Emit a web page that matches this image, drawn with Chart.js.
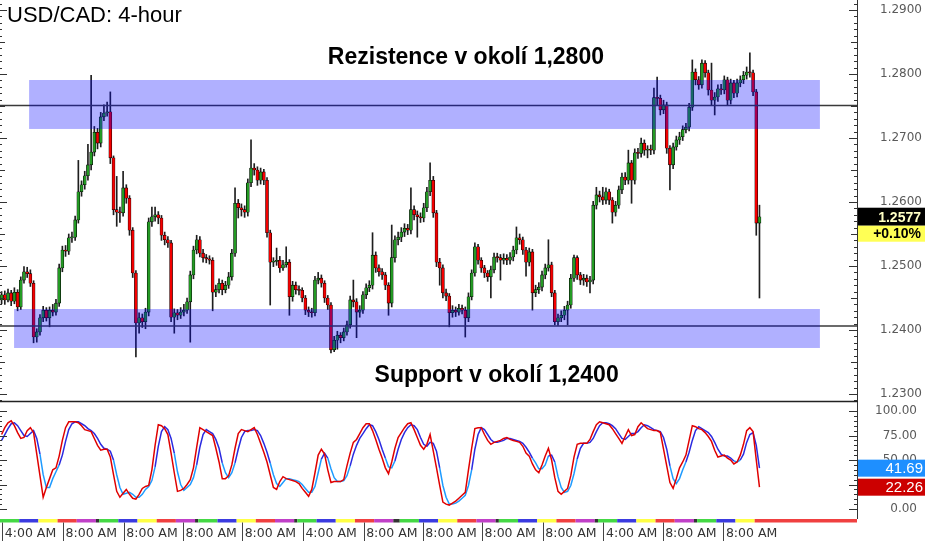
<!DOCTYPE html>
<html>
<head>
<meta charset="utf-8">
<script src="https://cdn.jsdelivr.net/npm/chart.js@4.4.1/dist/chart.umd.min.js"></script>
<style>
  html, body { margin: 0; padding: 0; background: #fff; }
  #wrap { position: relative; width: 925px; height: 541px; overflow: hidden; }
  #price { position: absolute; left: 0; top: 0; }
  #stoch { position: absolute; left: 0; top: 402px; }
</style>
</head>
<body>
<div id="wrap">
  <canvas id="price" width="925" height="403"></canvas>
  <canvas id="stoch" width="925" height="139"></canvas>
</div>
<script>
// USD/CAD 4-hour candles (index = candle number)
const opens = [
  1.2447,1.2455,1.2447,1.2458,1.2445,1.2459,1.2436,1.2478,1.2491,1.2488,
  1.2473,1.2389,1.2397,1.2419,1.2431,1.2419,1.2431,1.2428,1.2442,1.2497,
  1.2525,1.2523,1.2544,1.2545,1.2572,1.2616,1.2627,1.2641,1.2658,1.2678,
  1.2709,1.2692,1.2733,1.2739,1.2741,1.2669,1.2588,1.2584,1.2583,1.2622,
  1.2606,1.2556,1.2489,1.2411,1.2419,1.2413,1.2428,1.2569,1.2577,1.2580,
  1.2575,1.2548,1.2541,1.2536,1.2420,1.2427,1.2423,1.2428,1.2431,1.2444,
  1.2486,1.2525,1.2541,1.2520,1.2513,1.2511,1.2509,1.2459,1.2463,1.2473,
  1.2463,1.2470,1.2483,1.2520,1.2598,1.2591,1.2588,1.2584,1.2630,1.2653,
  1.2650,1.2634,1.2647,1.2634,1.2552,1.2506,1.2507,1.2509,1.2497,1.2502,
  1.2506,1.2452,1.2470,1.2463,1.2462,1.2450,1.2431,1.2428,1.2427,1.2478,
  1.2481,1.2473,1.2450,1.2439,1.2369,1.2384,1.2392,1.2388,1.2397,1.2408,
  1.2447,1.2444,1.2428,1.2431,1.2455,1.2466,1.2470,1.2517,1.2497,1.2491,
  1.2486,1.2470,1.2442,1.2513,1.2541,1.2545,1.2553,1.2559,1.2556,1.2588,
  1.2580,1.2577,1.2575,1.2591,1.2616,1.2634,1.2583,1.2506,1.2497,1.2458,
  1.2453,1.2427,1.2431,1.2428,1.2434,1.2431,1.2419,1.2452,1.2489,1.2530,
  1.2509,1.2497,1.2489,1.2483,1.2494,1.2514,1.2513,1.2509,1.2512,1.2509,
  1.2514,1.2525,1.2544,1.2541,1.2525,1.2506,1.2522,1.2458,1.2463,1.2467,
  1.2486,1.2497,1.2502,1.2458,1.2413,1.2419,1.2423,1.2431,1.2439,1.2481,
  1.2513,1.2486,1.2478,1.2481,1.2475,1.2478,1.2595,1.2611,1.2608,1.2603,
  1.2616,1.2603,1.2584,1.2595,1.2619,1.2639,1.2634,1.2661,1.2634,1.2677,
  1.2676,1.2692,1.2681,1.2682,1.2681,1.2763,1.2762,1.2744,1.2752,1.2684,
  1.2658,1.2686,1.2697,1.2702,1.2713,1.2717,1.2748,1.2803,1.2791,1.2783,
  1.2817,1.2802,1.2775,1.2759,1.2764,1.2777,1.2775,1.2791,1.2759,1.2786,
  1.2770,1.2786,1.2791,1.2798,1.2803,1.2802,1.2772,1.2567
];
const highs = [
  1.2460,1.2461,1.2464,1.2462,1.2466,1.2463,1.2483,1.2499,1.2498,1.2494,
  1.2477,1.2402,1.2424,1.2437,1.2435,1.2436,1.2440,1.2448,1.2503,1.2531,
  1.2532,1.2550,1.2553,1.2578,1.2665,1.2633,1.2648,1.2690,1.2798,1.2718,
  1.2715,1.2740,1.2752,1.2756,1.2772,1.2672,1.2640,1.2592,1.2648,1.2627,
  1.2610,1.2560,1.2493,1.2427,1.2425,1.2434,1.2575,1.2592,1.2592,1.2585,
  1.2579,1.2553,1.2546,1.2540,1.2433,1.2432,1.2435,1.2440,1.2450,1.2492,
  1.2531,1.2548,1.2546,1.2526,1.2518,1.2516,1.2513,1.2470,1.2480,1.2478,
  1.2476,1.2490,1.2526,1.2622,1.2604,1.2597,1.2594,1.2636,1.2697,1.2660,
  1.2655,1.2653,1.2651,1.2638,1.2556,1.2513,1.2528,1.2515,1.2509,1.2530,
  1.2510,1.2476,1.2475,1.2469,1.2466,1.2454,1.2436,1.2434,1.2484,1.2490,
  1.2486,1.2477,1.2454,1.2443,1.2390,1.2398,1.2396,1.2403,1.2414,1.2453,
  1.2478,1.2449,1.2438,1.2460,1.2472,1.2477,1.2552,1.2522,1.2502,1.2496,
  1.2490,1.2474,1.2564,1.2547,1.2553,1.2560,1.2566,1.2565,1.2622,1.2594,
  1.2586,1.2583,1.2598,1.2623,1.2661,1.2640,1.2587,1.2512,1.2502,1.2464,
  1.2457,1.2438,1.2436,1.2440,1.2439,1.2436,1.2458,1.2494,1.2536,1.2534,
  1.2513,1.2501,1.2493,1.2500,1.2520,1.2520,1.2518,1.2519,1.2518,1.2521,
  1.2531,1.2561,1.2550,1.2545,1.2529,1.2528,1.2526,1.2470,1.2474,1.2492,
  1.2503,1.2541,1.2506,1.2462,1.2425,1.2430,1.2437,1.2445,1.2487,1.2517,
  1.2516,1.2490,1.2487,1.2486,1.2484,1.2601,1.2623,1.2617,1.2623,1.2622,
  1.2620,1.2607,1.2601,1.2625,1.2645,1.2646,1.2681,1.2665,1.2683,1.2684,
  1.2700,1.2697,1.2688,1.2689,1.2778,1.2795,1.2767,1.2759,1.2756,1.2688,
  1.2692,1.2703,1.2709,1.2719,1.2723,1.2754,1.2822,1.2808,1.2796,1.2822,
  1.2821,1.2806,1.2817,1.2771,1.2783,1.2784,1.2797,1.2795,1.2792,1.2790,
  1.2792,1.2797,1.2804,1.2811,1.2833,1.2806,1.2776,1.2595
];
const lows = [
  1.2441,1.2440,1.2444,1.2438,1.2441,1.2430,1.2432,1.2473,1.2482,1.2468,
  1.2380,1.2381,1.2392,1.2413,1.2414,1.2405,1.2422,1.2423,1.2437,1.2491,
  1.2515,1.2518,1.2537,1.2540,1.2567,1.2609,1.2620,1.2634,1.2650,1.2672,
  1.2683,1.2686,1.2727,1.2734,1.2660,1.2580,1.2562,1.2568,1.2578,1.2598,
  1.2548,1.2482,1.2358,1.2395,1.2404,1.2402,1.2422,1.2562,1.2570,1.2566,
  1.2540,1.2533,1.2529,1.2413,1.2395,1.2416,1.2418,1.2422,1.2426,1.2381,
  1.2480,1.2519,1.2514,1.2506,1.2505,1.2503,1.2430,1.2452,1.2458,1.2455,
  1.2458,1.2465,1.2478,1.2515,1.2575,1.2578,1.2576,1.2578,1.2624,1.2642,
  1.2626,1.2628,1.2627,1.2545,1.2439,1.2499,1.2501,1.2490,1.2493,1.2498,
  1.2423,1.2445,1.2456,1.2455,1.2444,1.2424,1.2421,1.2420,1.2422,1.2472,
  1.2467,1.2443,1.2432,1.2364,1.2366,1.2370,1.2380,1.2383,1.2392,1.2403,
  1.2436,1.2388,1.2420,1.2426,1.2449,1.2460,1.2464,1.2490,1.2484,1.2479,
  1.2463,1.2423,1.2436,1.2506,1.2533,1.2538,1.2546,1.2549,1.2550,1.2572,
  1.2545,1.2568,1.2569,1.2585,1.2610,1.2576,1.2499,1.2470,1.2450,1.2446,
  1.2405,1.2420,1.2421,1.2423,1.2425,1.2389,1.2413,1.2447,1.2484,1.2503,
  1.2490,1.2482,1.2476,1.2450,1.2489,1.2506,1.2478,1.2503,1.2502,1.2503,
  1.2508,1.2519,1.2534,1.2518,1.2484,1.2500,1.2431,1.2452,1.2457,1.2461,
  1.2480,1.2492,1.2452,1.2408,1.2407,1.2413,1.2416,1.2408,1.2434,1.2476,
  1.2479,1.2471,1.2470,1.2468,1.2458,1.2472,1.2589,1.2600,1.2596,1.2597,
  1.2596,1.2567,1.2578,1.2590,1.2613,1.2627,1.2628,1.2598,1.2628,1.2668,
  1.2670,1.2673,1.2669,1.2674,1.2675,1.2752,1.2736,1.2738,1.2676,1.2619,
  1.2652,1.2681,1.2690,1.2696,1.2708,1.2711,1.2743,1.2783,1.2776,1.2778,
  1.2795,1.2767,1.2752,1.2736,1.2757,1.2768,1.2769,1.2752,1.2753,1.2763,
  1.2764,1.2780,1.2785,1.2792,1.2795,1.2766,1.2548,1.2450
];
const closes = [
  1.2455,1.2447,1.2458,1.2445,1.2459,1.2436,1.2478,1.2491,1.2488,1.2473,
  1.2389,1.2397,1.2419,1.2431,1.2419,1.2431,1.2428,1.2442,1.2497,1.2525,
  1.2523,1.2544,1.2545,1.2572,1.2616,1.2627,1.2641,1.2658,1.2678,1.2709,
  1.2692,1.2733,1.2739,1.2741,1.2669,1.2588,1.2584,1.2583,1.2622,1.2606,
  1.2556,1.2489,1.2411,1.2419,1.2413,1.2428,1.2569,1.2577,1.2580,1.2575,
  1.2548,1.2541,1.2536,1.2420,1.2427,1.2423,1.2428,1.2431,1.2444,1.2486,
  1.2525,1.2541,1.2520,1.2513,1.2511,1.2509,1.2459,1.2463,1.2473,1.2463,
  1.2470,1.2483,1.2520,1.2598,1.2591,1.2588,1.2584,1.2630,1.2653,1.2650,
  1.2634,1.2647,1.2634,1.2552,1.2506,1.2507,1.2509,1.2497,1.2502,1.2506,
  1.2452,1.2470,1.2463,1.2462,1.2450,1.2431,1.2428,1.2427,1.2478,1.2481,
  1.2473,1.2450,1.2439,1.2369,1.2384,1.2392,1.2388,1.2397,1.2408,1.2447,
  1.2444,1.2428,1.2431,1.2455,1.2466,1.2470,1.2517,1.2497,1.2491,1.2486,
  1.2470,1.2442,1.2513,1.2541,1.2545,1.2553,1.2559,1.2556,1.2588,1.2580,
  1.2577,1.2575,1.2591,1.2616,1.2634,1.2583,1.2506,1.2497,1.2458,1.2453,
  1.2427,1.2431,1.2428,1.2434,1.2431,1.2419,1.2452,1.2489,1.2530,1.2509,
  1.2497,1.2489,1.2483,1.2494,1.2514,1.2513,1.2509,1.2512,1.2509,1.2514,
  1.2525,1.2544,1.2541,1.2525,1.2506,1.2522,1.2458,1.2463,1.2467,1.2486,
  1.2497,1.2502,1.2458,1.2413,1.2419,1.2423,1.2431,1.2439,1.2481,1.2513,
  1.2486,1.2478,1.2481,1.2475,1.2478,1.2595,1.2611,1.2608,1.2603,1.2616,
  1.2603,1.2584,1.2595,1.2619,1.2639,1.2634,1.2661,1.2634,1.2677,1.2676,
  1.2692,1.2681,1.2682,1.2681,1.2763,1.2762,1.2744,1.2752,1.2684,1.2658,
  1.2686,1.2697,1.2702,1.2713,1.2717,1.2748,1.2803,1.2791,1.2783,1.2817,
  1.2802,1.2775,1.2759,1.2764,1.2777,1.2775,1.2791,1.2759,1.2786,1.2770,
  1.2786,1.2791,1.2798,1.2803,1.2802,1.2772,1.2567,1.2577
];

// stochastic oscillator, fast (red) and slow (blue) line
const stochRed = [
  76,83,88,90,85,78,72,73,80,83, 78,56,34,12,22,31,40,42,54,70,
  83,89,89,89,88,85,81,80,79,72, 65,60,61,61,53,35,18,12,16,20,
  15,11,10,15,21,23,24,40,65,86, 85,82,76,57,37,18,19,21,25,30,
  42,63,83,81,79,77,75,62,48,31, 31,34,45,62,77,81,80,79,81,83,
  76,67,58,48,35,22,20,28,33,31, 30,29,28,26,21,17,13,20,37,55,
  61,56,40,27,28,28,28,30,44,57, 68,71,77,83,87,87,80,71,61,52,
  42,36,48,62,73,78,83,87,88,81, 73,65,61,66,76,59,42,24,7,5,
  4,6,8,11,14,17,40,62,82,83, 83,76,70,66,68,69,70,72,73,71,
  70,69,68,64,57,54,46,40,37,45, 54,62,50,32,18,15,18,21,34,53,
  66,67,67,67,71,79,86,89,88,87, 86,82,77,72,67,74,81,75,76,84,
  88,85,82,81,80,80,78,61,44,27, 21,31,42,48,55,70,85,84,82,81,
  78,74,69,60,53,54,55,52,50,46, 48,55,66,80,83,79,50,22.26
];
const stochBlue = [
  70,76,82,87,88,85,80,75,74,77, 80,72,56,35,22,22,31,38,45,55,
  69,81,87,89,89,87,85,82,80,77, 72,66,62,61,59,50,35,22,15,16,
  17,15,12,12,15,20,23,29,43,64, 79,84,81,72,57,38,25,19,22,25,
  32,45,63,76,81,79,77,71,62,47, 37,32,37,47,61,73,79,80,80,81,
  80,75,67,58,47,35,26,23,27,31, 31,30,29,28,25,21,17,17,23,37,
  51,57,52,41,32,28,28,29,34,44, 56,65,72,77,82,86,85,79,71,61,
  52,43,42,49,61,71,78,83,86,85, 81,73,66,64,68,67,59,42,24,12,
  5,5,6,8,11,14,24,40,61,76, 83,81,76,71,68,68,69,70,72,72,
  71,70,69,67,63,58,52,47,41,41, 45,54,55,48,33,22,17,18,24,36,
  51,62,67,67,68,72,79,85,88,88, 87,85,82,77,72,71,74,77,77,79,
  83,86,85,83,81,80,79,73,61,44, 31,26,31,40,48,58,70,80,84,82,
  80,78,74,68,61,56,54,54,52,49, 48,50,56,68,76,78,65,41.69
];

// axis ticks and time labels (candle positions)
const priceTicks = [1.23, 1.24, 1.25, 1.26, 1.27, 1.28, 1.29];
const stochTicks = [0, 25, 50, 75, 100];
const timeTickAt = [1, 20, 39, 57.5, 76, 95, 114, 132.5, 151, 170, 189, 207.5, 226.5];
const timeTickText = ['4:00 AM', '8:00 AM', '8:00 AM', '8:00 AM', '8:00 AM',
                      '4:00 AM', '8:00 AM', '8:00 AM', '8:00 AM', '8:00 AM',
                      '4:00 AM', '8:00 AM', '8:00 AM'];
const weekStarts = [0, 31, 62, 93, 125, 156, 187, 218];

// support / resistance
const levelLines = [1.27508, 1.24063];
const zoneFrom = [8.6, 3.9];
const zoneTo = [255.9, 255.9];
const zoneHigh = [1.27906, 1.24328];
const zoneLow = [1.27141, 1.23719];
const noteText = ['Rezistence v okolí 1,2800', 'Support v okolí 1,2400'];
const noteAt = [145.2, 154.8];
const notePrice = [1.28156, 1.23188];
const dayChange = '+0.10%';

const X_MIN = -0.5, X_MAX = 267.5;
const PRICE_MIN = 1.22875, PRICE_MAX = 1.29156;
const N = closes.length;

const wickData = closes.map((c, i) => ({ x: i, y: [lows[i], highs[i]] }));
const bodyData = closes.map((c, i) => ({ x: i, y: [opens[i], c] }));

const tickFont = { family: 'DejaVu Sans', size: 12 };

const pricePanel = {
  id: 'pricePanel',
  afterDatasetsDraw(chart) {
    const { ctx, chartArea: a, scales: { x, y } } = chart;
    ctx.save();
    ctx.strokeStyle = '#3a3a3a';
    ctx.lineWidth = 1.5;
    levelLines.forEach((p) => {
      const py = y.getPixelForValue(p);
      ctx.beginPath();
      ctx.moveTo(a.left, py);
      ctx.lineTo(a.right, py);
      ctx.stroke();
    });
    ctx.fillStyle = 'rgba(0,0,255,0.31)';
    zoneFrom.forEach((x0, k) => {
      const px0 = x.getPixelForValue(x0);
      const px1 = x.getPixelForValue(zoneTo[k]);
      const py0 = y.getPixelForValue(zoneHigh[k]);
      const py1 = y.getPixelForValue(zoneLow[k]);
      ctx.fillRect(px0, py0, px1 - px0, py1 - py0);
    });
    ctx.fillStyle = '#000';
    ctx.font = 'bold 23px "Liberation Sans"';
    ctx.textAlign = 'center';
    ctx.textBaseline = 'alphabetic';
    noteText.forEach((t, k) => {
      ctx.fillText(t, x.getPixelForValue(noteAt[k]), y.getPixelForValue(notePrice[k]));
    });
    ctx.restore();
  },
  afterDraw(chart) {
    const { ctx, chartArea: a, scales: { y } } = chart;
    const ax = a.right;
    ctx.save();
    // axis line, bottom border, tick marks
    ctx.strokeStyle = '#333';
    ctx.lineWidth = 1;
    ctx.beginPath();
    ctx.moveTo(ax + 0.5, 0);
    ctx.lineTo(ax + 0.5, a.bottom);
    for (let k = Math.ceil(y.min * 1000); k <= Math.floor(y.max * 1000); k++) {
      const py = Math.round(y.getPixelForValue(k / 1000)) + 0.5;
      const len = k % 10 === 0 ? 8 : (k % 5 === 0 ? 6 : 3);
      ctx.moveTo(ax - len, py);
      ctx.lineTo(ax, py);
      ctx.moveTo(a.left, py);
      ctx.lineTo(a.left + len - 1, py);
    }
    ctx.stroke();
    ctx.lineWidth = 1.5;
    ctx.strokeStyle = '#222';
    ctx.beginPath();
    ctx.moveTo(a.left, a.bottom - 0.5);
    ctx.lineTo(ax + 1, a.bottom - 0.5);
    ctx.stroke();

    // title
    ctx.fillStyle = '#000';
    ctx.font = '22px "Liberation Sans"';
    ctx.textAlign = 'left';
    ctx.textBaseline = 'alphabetic';
    ctx.fillText('USD/CAD: 4-hour', 7, 21.5);

    // last price and change boxes
    const py = y.getPixelForValue(closes[N - 1]);
    const w = chart.width - ax - 1;
    ctx.fillStyle = '#000';
    ctx.fillRect(ax + 1, py - 9, w, 18);
    ctx.fillStyle = '#ffff55';
    ctx.fillRect(ax + 1, py + 9, w, 16);
    ctx.font = 'bold 14px "Liberation Sans"';
    ctx.textAlign = 'right';
    ctx.textBaseline = 'middle';
    ctx.fillStyle = '#ffffc4';
    ctx.fillText(closes[N - 1].toFixed(4), 921, py + 1);
    ctx.fillStyle = '#000';
    ctx.fillText(dayChange, 921, py + 17.5);
    ctx.restore();
  }
};

new Chart(document.getElementById('price'), {
  type: 'bar',
  data: {
    datasets: [
      {
        data: wickData,
        backgroundColor: '#1e1e1e',
        barThickness: 1,
        grouped: false,
        order: 2
      },
      {
        data: bodyData,
        backgroundColor: (c) => closes[c.dataIndex] >= opens[c.dataIndex] ? '#249b24' : '#f40000',
        borderColor: '#000',
        borderWidth: 0.6,
        borderSkipped: false,
        barThickness: 3,
        minBarLength: 1,
        grouped: false,
        order: 1
      }
    ]
  },
  options: {
    responsive: false,
    animation: false,
    devicePixelRatio: 1,
    layout: { padding: { left: 0, right: 3, top: 0, bottom: 1 } },
    plugins: { legend: { display: false }, tooltip: { enabled: false } },
    scales: {
      x: { type: 'linear', min: X_MIN, max: X_MAX, offset: false, display: false },
      y: {
        position: 'right',
        min: PRICE_MIN,
        max: PRICE_MAX,
        grid: { display: false, drawTicks: false },
        border: { display: false },
        afterBuildTicks: (s) => { s.ticks = priceTicks.map((v) => ({ value: v })); },
        afterFit: (s) => { s.width = 65; s.paddingTop = 0; s.paddingBottom = 0; },
        ticks: {
          crossAlign: 'far',
          padding: 23,
          color: '#5a5a5a',
          font: tickFont,
          callback: (v) => v.toFixed(4)
        }
      }
    }
  },
  plugins: [pricePanel]
});

const dayColors = ['#44d844', '#3b3be0', '#ffff44', '#f04040', '#c040c8'];

const stochPanel = {
  id: 'stochPanel',
  afterDraw(chart) {
    const { ctx, chartArea: a, scales: { x, y } } = chart;
    const ax = a.right;
    ctx.save();
    ctx.strokeStyle = '#333';
    ctx.lineWidth = 1;
    ctx.beginPath();
    ctx.moveTo(ax + 0.5, 0);
    ctx.lineTo(ax + 0.5, a.bottom);
    for (let v = 0; v <= 100; v += 5) {
      const py = Math.round(y.getPixelForValue(v)) + 0.5;
      const len = v % 25 === 0 ? 8 : 3;
      ctx.moveTo(ax - len, py);
      ctx.lineTo(ax, py);
      ctx.moveTo(a.left, py);
      ctx.lineTo(a.left + len - 1, py);
    }
    ctx.stroke();

    // day colour strip
    const sy = a.bottom, sh = 3.5;
    weekStarts.forEach((w, k) => {
      for (let d = 0; d < 5; d++) {
        const s = w + d * 6 - 0.5;
        if (s > N - 1) break;
        let e = s + 6;
        if (e > N - 0.5) e = X_MAX;
        ctx.fillStyle = dayColors[d];
        const p0 = x.getPixelForValue(s);
        ctx.fillRect(p0, sy, x.getPixelForValue(e) - p0, sh);
      }
      if (k < weekStarts.length - 1) {
        const p0 = x.getPixelForValue(w + 29.5);
        ctx.fillStyle = '#333';
        ctx.fillRect(p0, sy, x.getPixelForValue(weekStarts[k + 1] - 0.5) - p0, sh);
      }
    });

    // separators before time labels
    ctx.strokeStyle = '#444';
    ctx.beginPath();
    timeTickAt.forEach((t) => {
      const px = Math.round(x.getPixelForValue(t) - 2.5) + 0.5;
      ctx.moveTo(px, sy + sh);
      ctx.lineTo(px, chart.height);
    });
    ctx.stroke();

    // current value boxes
    const boxes = [
      [stochBlue[N - 1], '#1e8fff'],
      [stochRed[N - 1], '#cc0000']
    ];
    ctx.font = '15px "Liberation Sans"';
    ctx.textAlign = 'right';
    ctx.textBaseline = 'middle';
    boxes.forEach(([v, col]) => {
      const py = y.getPixelForValue(v);
      ctx.fillStyle = col;
      ctx.fillRect(ax + 1, py - 8.5, chart.width - ax - 1, 17);
      ctx.fillStyle = '#fff';
      ctx.fillText(v.toFixed(2), 923, py + 0.5);
    });
    ctx.restore();
  }
};

new Chart(document.getElementById('stoch'), {
  type: 'line',
  data: {
    datasets: [
      {
        data: stochBlue.map((v, i) => ({ x: i, y: v })),
        borderWidth: 1.5,
        pointRadius: 0,
        tension: 0,
        borderColor: '#2a2ae0',
        segment: {
          borderColor: (c) => (c.p0.parsed.y + c.p1.parsed.y) / 2 >= 50 ? '#2a2ae0' : '#1e9bff'
        },
        order: 2
      },
      {
        data: stochRed.map((v, i) => ({ x: i, y: v })),
        borderWidth: 1.5,
        pointRadius: 0,
        tension: 0,
        borderColor: '#e00000',
        order: 1
      }
    ]
  },
  options: {
    responsive: false,
    animation: false,
    devicePixelRatio: 1,
    layout: { padding: { left: 0, right: 8, top: 0, bottom: 0 } },
    plugins: { legend: { display: false }, tooltip: { enabled: false } },
    scales: {
      x: {
        type: 'linear',
        min: X_MIN,
        max: X_MAX,
        offset: false,
        grid: { display: false, drawTicks: false },
        border: { display: false },
        afterBuildTicks: (s) => { s.ticks = timeTickAt.map((v) => ({ value: v })); },
        afterFit: (s) => { s.height = 22; s.paddingLeft = 0; s.paddingRight = 0; },
        ticks: {
          align: 'start',
          autoSkip: false,
          maxRotation: 0,
          minRotation: 0,
          padding: 7,
          color: '#333',
          font: { family: 'DejaVu Sans', size: 12.5 },
          callback: (v, i) => timeTickText[i]
        }
      },
      y: {
        position: 'right',
        min: -10.2,
        max: 109.2,
        grid: { display: false, drawTicks: false },
        border: { display: false },
        afterBuildTicks: (s) => { s.ticks = stochTicks.map((v) => ({ value: v })); },
        afterFit: (s) => { s.width = 60; s.paddingTop = 0; s.paddingBottom = 0; },
        ticks: {
          crossAlign: 'far',
          padding: 18,
          color: '#5a5a5a',
          font: tickFont,
          callback: (v) => v.toFixed(2)
        }
      }
    }
  },
  plugins: [stochPanel]
});
</script>
</body>
</html>
